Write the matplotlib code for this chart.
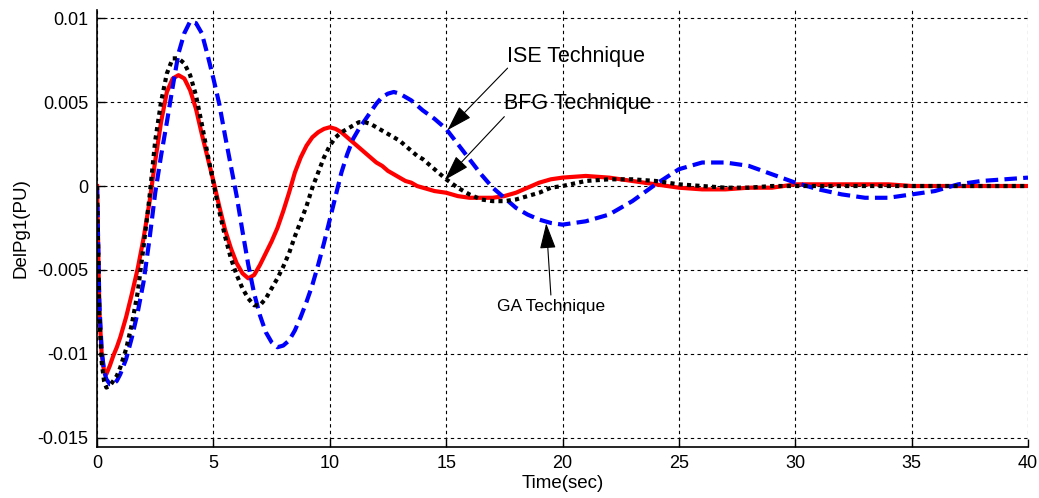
import matplotlib
matplotlib.use('Agg')
import matplotlib.pyplot as plt

# time samples (sec)
t = [0, 0.1, 0.2, 0.3, 0.4, 0.55, 0.7, 0.85,
     1.0, 1.25, 1.5, 1.75, 2.0, 2.25, 2.5, 2.75,
     3.0, 3.25, 3.5, 3.75, 4.0, 4.25, 4.5, 4.75,
     5.0, 5.25, 5.5, 5.75, 6.0, 6.25, 6.5, 6.75,
     7.0, 7.25, 7.5, 7.75, 8.0, 8.25, 8.5, 8.75,
     9.0, 9.25, 9.5, 9.75, 10.0, 10.25, 10.5, 10.75,
     11.0, 11.25, 11.5, 11.75, 12.0, 12.25, 12.5, 12.75,
     13.0, 13.25, 13.5, 13.75, 14.0, 14.5, 15, 15.5,
     16, 16.5, 17, 17.5, 18, 18.5, 19, 19.5,
     20, 21, 22, 23, 24, 25, 26, 27,
     28, 29, 30, 31, 32, 33, 34, 35,
     36, 37, 38, 39, 40]

# red solid curve
red_vals = [0, -0.0075, -0.0100, -0.0110, -0.0112, -0.0107, -0.0101, -0.0096,
            -0.0090, -0.0078, -0.0064, -0.0049, -0.0031, -0.0010, 0.0015, 0.0038,
            0.0056, 0.0064, 0.0066, 0.0064, 0.0057, 0.0046, 0.0031, 0.0017,
            0.0003, -0.0012, -0.0026, -0.0037, -0.0046, -0.0052, -0.0055, -0.0053,
            -0.0047, -0.0040, -0.0033, -0.0025, -0.0015, -0.0004, 0.0008, 0.0017,
            0.0024, 0.0029, 0.0032, 0.0034, 0.0035, 0.0034, 0.0032, 0.0029,
            0.0026, 0.0023, 0.0020, 0.0017, 0.0014, 0.0012, 0.0009, 0.0007,
            0.0005, 0.0003, 0.0002, 0.0000, -0.0001, -0.0003, -0.0004, -0.0006,
            -0.0007, -0.0007, -0.0007, -0.0006, -0.0004, -0.0001, 0.0002, 0.0004,
            0.0005, 0.0006, 0.0005, 0.0003, 0.0001, -0.0001, -0.0002, -0.0002,
            -0.0001, -0.0001, 0.0001, 0.0001, 0.0001, 0.0001, 0.0001, 0.0,
            0.0, 0.0, 0.0, 0.0, 0.0]

# black dotted curve
black_vals = [0, -0.0078, -0.0105, -0.0116, -0.0120, -0.0119, -0.0116, -0.0113,
              -0.0108, -0.0097, -0.0082, -0.0063, -0.0036, -0.0007, 0.0027, 0.0050,
              0.0067, 0.0076, 0.0076, 0.0073, 0.0066, 0.0054, 0.0037, 0.0019,
              0.0002, -0.0015, -0.0030, -0.0043, -0.0053, -0.0061, -0.0067, -0.0071,
              -0.0071, -0.0067, -0.0061, -0.0055, -0.0048, -0.0040, -0.0030, -0.0021,
              -0.0012, -0.0001, 0.0008, 0.0017, 0.0024, 0.0029, 0.0032, 0.0034,
              0.0036, 0.0038, 0.0038, 0.0037, 0.0035, 0.0033, 0.0031, 0.0029,
              0.0027, 0.0024, 0.0021, 0.0018, 0.0016, 0.0010, 0.0004, -0.0001,
              -0.0005, -0.0008, -0.0009, -0.0009, -0.0008, -0.0006, -0.0004, -0.0001,
              0.0000, 0.0003, 0.0004, 0.0004, 0.0003, 0.0001, 0.0, -0.0001,
              -0.0001, 0.0, 0.0, 0.0, 0.0, 0.0, 0.0, 0.0,
              0.0, 0.0, 0.0, 0.0, 0.0]

# blue dashed curve
blue_vals = [0, -0.0070, -0.0098, -0.0110, -0.0115, -0.0118, -0.0118, -0.0116,
             -0.0112, -0.0103, -0.0090, -0.0075, -0.0057, -0.0032, -0.0004, 0.0018,
             0.0038, 0.0059, 0.0079, 0.0091, 0.0098, 0.0097, 0.0091, 0.0078,
             0.0064, 0.0049, 0.0030, 0.0012, -0.0006, -0.0027, -0.0047, -0.0064,
             -0.0077, -0.0087, -0.0093, -0.0096, -0.0095, -0.0092, -0.0086, -0.0078,
             -0.0069, -0.0059, -0.0047, -0.0034, -0.0020, -0.0006, 0.0008, 0.0019,
             0.0028, 0.0034, 0.0039, 0.0044, 0.0049, 0.0053, 0.0055, 0.0056,
             0.0055, 0.0053, 0.0051, 0.0048, 0.0045, 0.0040, 0.0034, 0.0025,
             0.0016, 0.0007, -0.0001, -0.0007, -0.0013, -0.0017, -0.0020, -0.0022,
             -0.0023, -0.0021, -0.0017, -0.0009, 0.0001, 0.0010, 0.0014, 0.0014,
             0.0012, 0.0007, 0.0002, -0.0002, -0.0005, -0.0007, -0.0007, -0.0005,
             -0.0003, 0.0001, 0.0003, 0.0004, 0.0005]

xticks = [0, 5, 10, 15, 20, 25, 30, 35, 40]
yticks = [0.01, 0.005, 0, -0.005, -0.01, -0.015]
ytick_labels = ['0.01', '0.005', '0', '-0.005', '-0.01', '-0.015']

plt.rcParams['font.family'] = ['Liberation Sans', 'DejaVu Sans']

fig = plt.figure(figsize=(10.39, 4.98), dpi=100)
ax = fig.add_axes([0.0934, 0.1024, 0.8960, 0.8775])

ax.plot(t, red_vals, color='red', lw=3, solid_joinstyle='round')
ax.plot(t, blue_vals, color='blue', lw=3, linestyle='--', dashes=(3, 1.5))
ax.plot(t, black_vals, color='black', lw=3, linestyle=':', dashes=(1, 1))

ax.set_xlim(0, 40)
ax.set_ylim(-0.01554, 0.01048)
ax.set_xticks(xticks)
ax.set_xticklabels([str(x) for x in xticks])
ax.set_yticks(yticks)
ax.set_yticklabels(ytick_labels)
ax.tick_params(direction='in', length=6, width=1, labelsize=13, pad=6)

ax.grid(True, color='black', linestyle=(0, (3, 3)), linewidth=0.8)
ax.spines['top'].set_visible(False)
ax.spines['right'].set_visible(False)
ax.spines['left'].set_linewidth(1.2)
ax.spines['bottom'].set_linewidth(1.2)

ax.set_xlabel('Time(sec)', fontsize=13.5, labelpad=2)
ax.set_ylabel('DelPg1(PU)', fontsize=13.5, labelpad=6)

# annotation arrows with labels
arrow = dict(arrowstyle='-|>,head_length=0.8,head_width=0.25', color='black',
             lw=0.8, mutation_scale=20, shrinkA=0, shrinkB=0)
ax.annotate('', xy=(15.06, 0.00333), xytext=(17.64, 0.00702), arrowprops=arrow)
ax.text(17.6, 0.0077, 'ISE Technique', fontsize=15.5, ha='left', va='center')
ax.annotate('', xy=(14.94, 0.00036), xytext=(17.5, 0.00413), arrowprops=arrow)
ax.text(17.5, 0.0049, 'BFG Technique', fontsize=15.5, ha='left', va='center')
ax.annotate('', xy=(19.3, -0.00222), xytext=(19.5, -0.00649), arrowprops=arrow)
ax.text(19.5, -0.0072, 'GA Technique', fontsize=12.5, ha='center', va='center')

fig.savefig('out.png', dpi=100)
